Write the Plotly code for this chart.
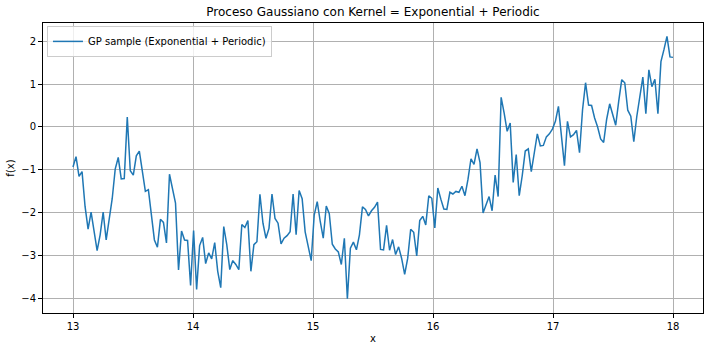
import numpy as np
import plotly.graph_objects as go

# x grid: evenly spaced samples between 13 and 18
X_START = 13.0
X_END = 18.0
N_POINTS = 200

# GP sample values
gp_values = [
    -0.93, -0.69, -1.15, -1.04, -1.85, -2.38, -1.98, -2.44, -2.88, -2.51,
    -1.98, -2.63, -2.20, -1.67, -0.98, -0.71, -1.21, -1.20, 0.23, -1.02,
    -1.12, -0.67, -0.56, -1.00, -1.50, -1.46, -1.98, -2.63, -2.80, -2.15,
    -2.22, -2.70, -1.10, -1.48, -1.77, -3.33, -2.42, -2.63, -2.64, -3.69,
    -2.41, -3.78, -2.76, -2.57, -3.18, -2.93, -3.07, -2.69, -3.36, -3.74,
    -2.32, -2.74, -3.32, -3.11, -3.20, -3.32, -2.27, -2.34, -2.18, -3.36,
    -2.74, -2.67, -1.57, -2.24, -2.59, -2.36, -1.56, -2.13, -2.24, -2.72,
    -2.59, -2.53, -2.44, -1.56, -2.51, -1.48, -1.67, -2.44, -2.78, -3.11,
    -2.05, -1.74, -2.20, -2.59, -1.84, -2.02, -2.73, -2.84, -2.91, -3.20,
    -2.59, -4.00, -2.82, -2.68, -2.86, -2.51, -1.86, -1.92, -2.07, -1.95,
    -1.87, -1.75, -2.85, -2.86, -2.29, -2.87, -2.62, -2.97, -2.79, -3.06,
    -3.43, -3.06, -2.38, -2.45, -3.00, -2.18, -2.08, -2.28, -1.60, -1.66,
    -2.35, -1.42, -1.68, -1.91, -1.92, -1.52, -1.56, -1.50, -1.52, -1.38,
    -1.60, -1.22, -0.74, -0.87, -0.51, -0.83, -2.00, -1.83, -1.62, -1.95,
    -1.12, -1.62, 0.69, 0.32, -0.10, 0.09, -1.29, -0.64, -1.60, -1.13,
    -0.56, -0.51, -1.04, -0.60, -0.16, -0.44, -0.43, -0.23, -0.16, -0.05,
    0.13, 0.48, -0.29, -0.90, 0.13, -0.23, -0.18, -0.08, -0.60, 0.40,
    1.03, 0.51, 0.50, 0.21, 0.00, -0.28, -0.36, 0.18, 0.54, 0.29,
    0.04, 0.60, 1.10, 1.03, 0.39, 0.25, -0.34, 0.25, 0.71, 1.16,
    0.31, 1.33, 0.94, 1.11, 0.31, 1.52, 1.80, 2.11, 1.63, 1.62,
]

x_ticks = [13, 14, 15, 16, 17, 18]
y_ticks = [-4, -3, -2, -1, 0, 1, 2]

title_text = "Proceso Gaussiano con Kernel = Exponential + Periodic"
series_name = "GP sample (Exponential + Periodic)"
x_label = "x"
y_label = "f(x)"

x_values = np.linspace(X_START, X_END, len(gp_values))

FONT = "DejaVu Sans"

fig = go.Figure()
fig.add_trace(go.Scatter(
    x=x_values, y=gp_values, mode="lines", name=series_name,
    line=dict(color="#1f77b4", width=1.5),
    showlegend=True,
))

axis_common = dict(
    showline=True, linecolor="black", linewidth=1, mirror=True,
    ticks="outside", ticklen=4, tickcolor="black", tickwidth=1,
    showgrid=True, gridcolor="#b0b0b0", gridwidth=1,
    zeroline=False, tickfont=dict(family=FONT, size=10, color="black"),
)

fig.update_layout(
    width=709, height=351,
    margin=dict(l=43, r=6, t=23, b=38),
    paper_bgcolor="white", plot_bgcolor="white",
    font=dict(family=FONT, size=10, color="black"),
    title=dict(text=title_text, x=0.5, xref="paper", xanchor="center",
               y=1 - 12 / 351, yref="container", yanchor="middle",
               font=dict(family=FONT, size=12, color="black")),
    xaxis=dict(range=[12.75, 18.25], tickvals=x_ticks,
               title=dict(text=x_label, standoff=3,
                          font=dict(family=FONT, size=10, color="black")),
               **axis_common),
    yaxis=dict(range=[-4.33, 2.42], tickvals=y_ticks,
               title=dict(text=y_label, standoff=4,
                          font=dict(family=FONT, size=10, color="black")),
               **axis_common),
    legend=dict(x=0.006, y=0.99, xanchor="left", yanchor="top",
                bgcolor="rgba(255,255,255,0.8)", bordercolor="#cccccc",
                borderwidth=1, font=dict(family=FONT, size=10, color="black"),
                itemwidth=30, tracegroupgap=0),
    showlegend=True,
)

fig.write_html("out.html")
